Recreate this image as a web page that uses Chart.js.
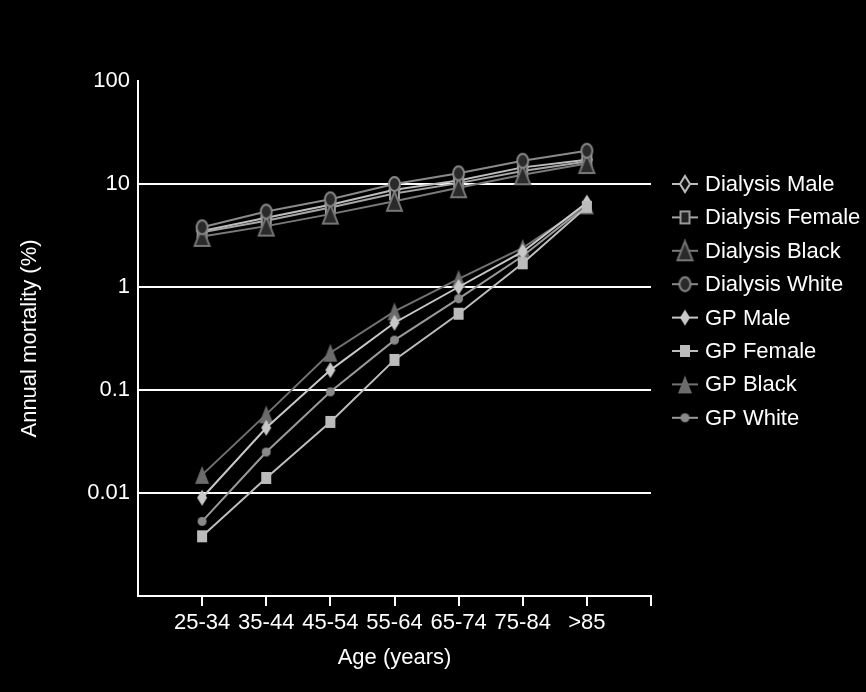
<!DOCTYPE html>
<html>
<head>
<meta charset="utf-8">
<script src="https://cdn.jsdelivr.net/npm/chart.js@4/dist/chart.umd.min.js"></script>
<style>
  html, body { margin: 0; padding: 0; background: #000; }
  canvas { display: block; }
</style>
</head>
<body>
<canvas id="demo" width="866" height="692"></canvas>
<script>
// values (annual mortality, %)
const categories = ["25-34", "35-44", "45-54", "55-64", "65-74", "75-84", ">85"];
const dialysisMale = [3.5, 4.7, 6.3, 8.8, 10.8, 14.5, 17.2];
const dialysisFemale = [3.4, 4.4, 5.9, 8.1, 10.2, 13.4, 16.5];
const dialysisBlack = [3.1, 3.9, 5.1, 6.8, 9.2, 12.3, 15.8];
const dialysisWhite = [3.8, 5.4, 7.1, 10.0, 12.7, 16.8, 21];
const gpMale = [0.009, 0.043, 0.156, 0.45, 1.0, 2.2, 6.6];
const gpFemale = [0.0038, 0.014, 0.049, 0.196, 0.55, 1.7, 6.0];
const gpBlack = [0.015, 0.058, 0.23, 0.58, 1.2, 2.4, 6.2];
const gpWhite = [0.0053, 0.025, 0.096, 0.305, 0.77, 2.0, 6.2];
const yTicks = [0.001, 0.01, 0.1, 1, 10, 100];

const FONT = "'Liberation Sans', Arial, Helvetica, sans-serif";

// small canvases used as point styles (the original markers are a bit taller than wide)
function marker(shape, w, h, fill, stroke) {
  const c = document.createElement("canvas");
  c.width = w + 4;
  c.height = h + 4;
  const g = c.getContext("2d");
  g.translate(c.width / 2, c.height / 2);
  g.beginPath();
  if (shape === "diamond") {
    g.moveTo(0, -h / 2); g.lineTo(w / 2, 0); g.lineTo(0, h / 2); g.lineTo(-w / 2, 0); g.closePath();
  } else if (shape === "square") {
    g.rect(-w / 2, -h / 2, w, h);
  } else if (shape === "triangle") {
    g.moveTo(0, -h / 2); g.lineTo(w / 2, h / 2); g.lineTo(-w / 2, h / 2); g.closePath();
  } else {
    g.ellipse(0, 0, w / 2, h / 2, 0, 0, Math.PI * 2);
  }
  g.fillStyle = fill;
  g.fill();
  if (stroke) {
    g.lineWidth = 2;
    g.strokeStyle = stroke;
    g.stroke();
  }
  return c;
}

function series(label, values, color, style, order) {
  return {
    label: label,
    data: values.map((v, i) => ({ x: i + 1, y: v })),
    borderColor: color,
    borderWidth: 2,
    pointStyle: style,
    pointRadius: 6,
    order: order,
  };
}

const datasets = [
  series("Dialysis Male", dialysisMale, "#bdbdbd", marker("diamond", 10, 16, "#111", "#bbb"), 3),
  series("Dialysis Female", dialysisFemale, "#a6a6a6", marker("square", 9, 12, "#222", "#999"), 2),
  series("Dialysis Black", dialysisBlack, "#7a7a7a", marker("triangle", 15, 19, "#2a2a2a", "#777"), 1),
  series("Dialysis White", dialysisWhite, "#8a8a8a", marker("circle", 11, 14, "#2a2a2a", "#888"), 0),
  series("GP Male", gpMale, "#c8c8c8", marker("diamond", 10, 16, "#c8c8c8"), 5),
  series("GP Female", gpFemale, "#bdbdbd", marker("square", 10, 12, "#bbb"), 4),
  series("GP Black", gpBlack, "#727272", marker("triangle", 14, 18, "#6b6b6b"), 6),
  series("GP White", gpWhite, "#9a9a9a", marker("circle", 9, 9, "#8a8a8a"), 7),
];

// legend with a short line through each marker, like the original
const lineLegend = {
  id: "lineLegend",
  afterDraw(chart) {
    const ctx = chart.ctx;
    ctx.save();
    chart.data.datasets.forEach((ds, i) => {
      const y = 184 + i * 33.4;
      ctx.strokeStyle = ds.borderColor;
      ctx.lineWidth = 2;
      ctx.beginPath();
      ctx.moveTo(672, y);
      ctx.lineTo(698, y);
      ctx.stroke();
      const img = ds.pointStyle;
      ctx.drawImage(img, 685 - img.width / 2, y - img.height / 2);
      ctx.fillStyle = "#fff";
      ctx.font = "22px " + FONT;
      ctx.textBaseline = "middle";
      ctx.fillText(ds.label, 705, y + 1);
    });
    ctx.restore();
  },
};

new Chart(document.getElementById("demo").getContext("2d"), {
  type: "line",
  data: { datasets: datasets },
  plugins: [lineLegend],
  options: {
    responsive: false,
    animation: false,
    layout: { padding: { top: 81, right: 215, bottom: 0, left: 0 } },
    plugins: { legend: { display: false }, tooltip: { enabled: false } },
    scales: {
      x: {
        type: "linear",
        min: 0,
        max: 8,
        afterBuildTicks: (scale) => {
          scale.ticks = [0, 1, 2, 3, 4, 5, 6, 7, 8].map((v) => ({ value: v }));
        },
        afterFit: (scale) => { scale.height = 96; },
        border: { color: "#fff", width: 2 },
        grid: {
          drawOnChartArea: false,
          tickLength: 10,
          lineWidth: 2,
          color: (c) => (c.tick && c.tick.value > 0 ? "#fff" : "rgba(0,0,0,0)"),
        },
        ticks: {
          autoSkip: false,
          maxRotation: 0,
          padding: 4,
          color: "#fff",
          font: { family: FONT, size: 22 },
          callback: (v) => (v >= 1 && v <= 7 ? categories[v - 1] : ""),
        },
        title: {
          display: true,
          text: "Age (years)",
          color: "#fff",
          font: { family: FONT, size: 22, lineHeight: 1.2 },
          padding: { top: 0, bottom: 21 },
        },
      },
      y: {
        type: "logarithmic",
        min: 0.001,
        max: 100,
        afterBuildTicks: (scale) => {
          scale.ticks = yTicks.map((v) => ({ value: v }));
        },
        afterFit: (scale) => { scale.width = 138; },
        border: { color: "#fff", width: 2 },
        grid: {
          drawTicks: false,
          lineWidth: 2,
          color: (c) => (c.tick && c.tick.value > 0.001 && c.tick.value < 100 ? "#fff" : "rgba(0,0,0,0)"),
        },
        ticks: {
          padding: 8,
          color: "#fff",
          font: { family: FONT, size: 22 },
          callback: (v) => (v === 0.001 ? "" : String(v)),
        },
        title: {
          display: true,
          text: "Annual mortality (%)",
          color: "#fff",
          font: { family: FONT, size: 22, lineHeight: 1.2 },
          padding: { top: 17, bottom: 0 },
        },
      },
    },
  },
});
</script>
</body>
</html>
